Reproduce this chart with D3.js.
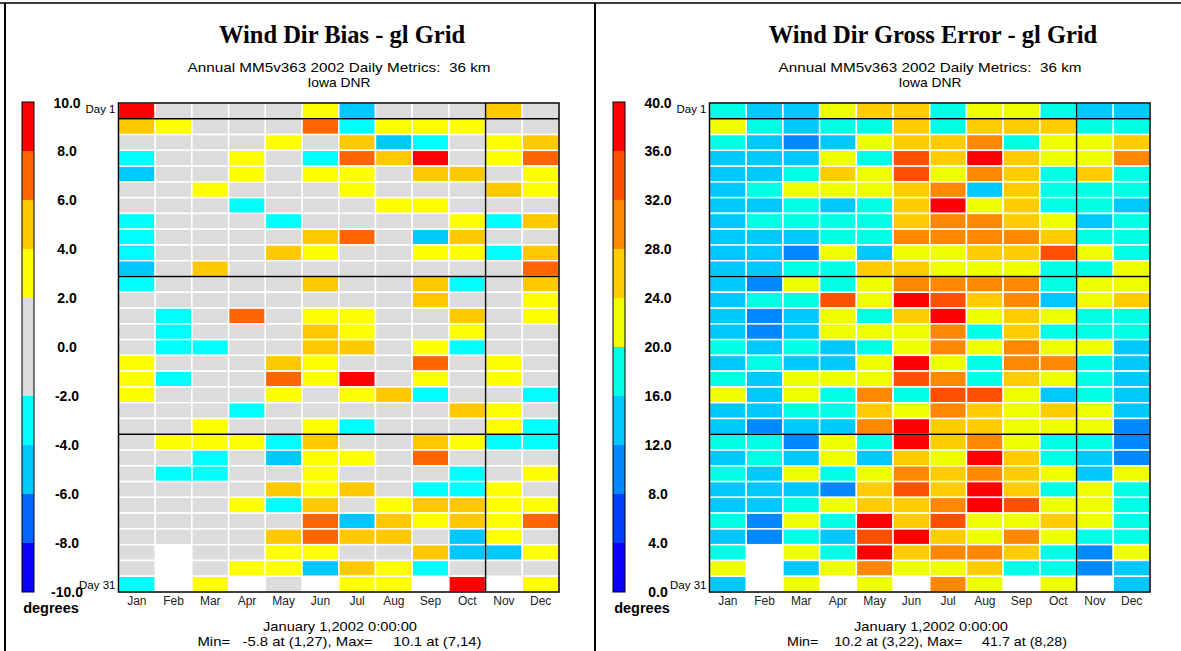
<!DOCTYPE html>
<html>
<head>
<meta charset="utf-8">
<script src="https://cdn.jsdelivr.net/npm/d3@7"></script>
<style>
html,body{margin:0;padding:0;background:#fff;}
svg{display:block;}
text{font-family:"Liberation Sans",Arial,Helvetica,sans-serif;}
</style>
</head>
<body>
<svg id="chart" width="1181" height="651"></svg>
<script>
// ---------- categories ----------
const months = ["Jan","Feb","Mar","Apr","May","Jun","Jul","Aug","Sep","Oct","Nov","Dec"];
const days = d3.range(1, 32);

// ---------- Wind Dir Bias (degrees), day 1..31 per month (null = no day) ----------
const biasJan = [9,5,0,-3,-5.8,0,0,-3,-3,-3,-5,-3,0,0,0,0,3,3,3,0,0,0,0,0,0,0,0,0,0,0,-3];
const biasFeb = [0,3,0,0,0,0,0,0,0,0,0,0,0,-3,-3,-3,0,-3,0,0,0,3,0,-3,0,0,0,0,null,null,null];
const biasMar = [0,0,0,0,0,3,0,0,0,0,5,0,0,0,0,-3,0,0,0,0,3,3,-3,-3,0,0,0,0,0,0,3];
const biasApr = [0,0,0,3,3,0,-3,0,0,0,0,0,0,7,0,0,0,0,0,-3,0,3,0,0,0,3,0,0,0,3,null];
const biasMay = [0,0,3,0,0,0,0,-3,0,5,0,0,0,0,0,0,5,7,3,0,0,-3,-5,0,5,-3,0,5,3,3,0];
const biasJun = [3,7,0,-3,3,0,0,0,5,3,0,5,0,3,5,5,3,3,0,0,3,5,3,3,3,5,7,7,3,-5,null];
const biasJul = [-5,-3,5,7,3,3,0,0,7,0,0,0,0,3,3,5,0,10.1,3,0,-3,0,3,0,5,0,-5,5,0,5,3];
const biasAug = [0,3,-5,5,0,0,3,0,0,0,0,0,0,0,0,0,0,0,5,0,0,0,0,0,0,3,5,5,0,3,3];
const biasSep = [0,3,-3,9,5,0,3,0,-5,3,0,5,5,0,0,3,7,3,-3,0,0,5,7,0,-3,5,3,0,5,-3,null];
const biasOct = [0,3,0,0,5,0,0,3,5,3,0,-3,0,5,3,-3,0,0,0,5,0,3,0,-3,-3,5,5,-5,-5,0,9];
const biasNov = [5,0,3,3,0,5,0,-3,0,-3,0,0,0,0,0,0,3,3,0,3,3,-3,0,0,3,3,3,3,-5,0,null];
const biasDec = [0,0,5,7,3,3,0,5,0,5,7,5,3,3,0,0,0,0,-3,0,-3,-3,0,3,0,3,7,0,3,0,3];

// ---------- Wind Dir Gross Error (degrees) ----------
const errJan = [18,22,18,14,14,14,14,14,14,14,14,14,14,14,14,18,14,18,22,14,14,18,14,18,14,14,18,14,18,22,14];
const errFeb = [14,18,14,14,14,18,14,18,14,14,14,11,18,11,11,14,18,14,14,14,11,18,18,14,14,14,11,11,null,null,null];
const errMar = [14,14,11,14,18,22,18,18,14,10.2,18,22,18,14,14,18,14,22,22,18,14,11,14,22,14,18,22,18,22,14,22];
const errApr = [22,18,14,22,26,22,14,18,18,22,18,18,34,22,22,14,14,22,18,18,14,22,22,18,11,22,18,14,18,22,null];
const errMay = [26,18,22,18,22,22,18,18,18,14,26,22,22,18,22,18,22,22,30,26,30,18,14,22,26,26,38,34,38,30,22];
const errJun = [26,26,26,34,34,26,26,26,30,22,26,30,38,26,22,22,38,34,18,22,38,38,26,30,34,26,26,38,26,22,null];
const errJul = [18,18,26,26,22,30,38,30,30,22,22,30,34,38,30,30,22,30,34,30,26,26,22,26,26,30,34,26,30,22,30];
const errAug = [22,26,30,41.7,30,14,22,30,30,26,22,30,26,22,18,22,18,18,34,26,26,30,38,30,38,38,22,22,30,26,22];
const errSep = [22,26,18,26,26,26,26,26,30,26,22,30,30,26,26,30,30,26,22,22,22,22,26,26,26,34,22,30,26,18,null];
const errOct = [18,26,22,22,18,18,18,22,26,34,18,18,14,22,18,22,30,22,14,26,22,18,18,22,18,22,26,22,18,18,22];
const errNov = [14,18,22,22,26,18,18,14,18,22,18,22,22,18,18,22,18,18,18,22,22,18,14,14,22,22,22,18,11,11,null];
const errDec = [14,18,26,30,18,18,14,18,18,18,22,22,26,18,18,14,14,14,14,14,11,11,11,22,18,18,18,18,22,14,14];

const biasSeries = [biasJan,biasFeb,biasMar,biasApr,biasMay,biasJun,biasJul,biasAug,biasSep,biasOct,biasNov,biasDec];
const errSeries  = [errJan,errFeb,errMar,errApr,errMay,errJun,errJul,errAug,errSep,errOct,errNov,errDec];

// ---------- colour bins & tick labels ----------
const biasThresholds = [-8,-6,-4,-2,2,4,6,8];
const biasColors = ["#0A00FF","#0066FF","#00C8FF","#00FFFF","#DCDCDC","#FFFF00","#FFC800","#FF6600","#FF0000"];
const biasTicks = [-10,-8,-6,-4,-2,0,2,4,6,8,10];

const errThresholds = [4,8,12,16,20,24,28,32,36];
const errColors = ["#0A00FF","#0040FF","#0088FF","#00C8FF","#00FFE6","#EEFF00","#FFCC00","#FF8800","#FF5000","#FF0000"];
const errTicks = [0,4,8,12,16,20,24,28,32,36,40];

// grid lines: below these days, right of these months
const gridDays = [1, 11, 21];
const gridMonths = ["Oct"];

const svg = d3.select("#chart");

// frame lines
svg.append("line").attr("x1",0).attr("x2",1181).attr("y1",3).attr("y2",3).attr("stroke","#000").attr("stroke-width",1.5);
[5, 595].forEach(x => svg.append("line").attr("x1",x).attr("x2",x).attr("y1",3).attr("y2",651).attr("stroke","#000").attr("stroke-width",2));

function drawPanel(cfg) {
  const g = svg.append("g").attr("transform", `translate(${cfg.dx},0)`);
  const x = d3.scaleBand().domain(months).range([118.5, 559]);
  const y = d3.scaleBand().domain(days).range([103, 592]);
  const color = d3.scaleThreshold().domain(cfg.thresholds).range(cfg.colors);

  // titles
  g.append("text").attr("x",342).attr("y",43).attr("text-anchor","middle")
    .style("font-family","'Liberation Serif','Times New Roman',serif").style("font-weight","bold")
    .style("font-size","24.5px").text(cfg.title);
  g.append("text").attr("x",339).attr("y",72).attr("text-anchor","middle").style("font-size","13.5px")
    .attr("xml:space","preserve").style("white-space","pre")
    .attr("textLength",303).attr("lengthAdjust","spacingAndGlyphs")
    .text("Annual MM5v363 2002 Daily Metrics:  36 km");
  g.append("text").attr("x",339).attr("y",87).attr("text-anchor","middle").style("font-size","13.5px")
    .attr("textLength",63).attr("lengthAdjust","spacingAndGlyphs").text("Iowa DNR");

  // cells
  const cells = [];
  cfg.series.forEach((arr, mi) => arr.forEach((v, di) => { if (v !== null) cells.push({m: months[mi], d: days[di], v}); }));
  g.append("g").selectAll("rect").data(cells).join("rect")
    .attr("x", d => x(d.m)).attr("y", d => y(d.d))
    .attr("width", x.bandwidth()).attr("height", y.bandwidth())
    .attr("fill", d => color(d.v)).attr("stroke","#fff").attr("stroke-width",1.5);

  // grid lines
  gridDays.forEach(d => {
    const yy = y(d) + y.bandwidth();
    g.append("line").attr("x1",x.range()[0]).attr("x2",x.range()[1]).attr("y1",yy).attr("y2",yy).attr("stroke","#000").attr("stroke-width",1.5);
  });
  gridMonths.forEach(m => {
    const xx = x(m) + x.bandwidth();
    g.append("line").attr("x1",xx).attr("x2",xx).attr("y1",y.range()[0]).attr("y2",y.range()[1]).attr("stroke","#111").attr("stroke-width",1.5);
  });
  g.append("rect").attr("x",x.range()[0]).attr("y",y.range()[0]).attr("width",x.range()[1]-x.range()[0]).attr("height",y.range()[1]-y.range()[0])
    .attr("fill","none").attr("stroke","#000").attr("stroke-width",1.5);

  // month labels
  g.append("g").selectAll("text").data(months).join("text")
    .attr("x", m => x(m) + x.bandwidth()/2).attr("y", 605).attr("text-anchor","middle")
    .style("font-size","12px").attr("fill","#222").text(m => m);

  // Day labels
  g.append("text").attr("x",x.range()[0]-3).attr("y",113).attr("text-anchor","end").style("font-size","11.5px").text("Day " + days[0]);
  g.append("text").attr("x",x.range()[0]-3).attr("y",589).attr("text-anchor","end").style("font-size","11.5px").text("Day " + days[days.length-1]);

  // colour bar
  const cbX = 22, cbW = 12;
  const ext = d3.extent(cfg.ticks);
  const cy = d3.scaleLinear().domain(ext).range([592, 102]);
  const bounds = [ext[0], ...cfg.thresholds, ext[1]];
  const bands = bounds.slice(0,-1).map((b,i) => ({lo: b, hi: bounds[i+1], c: cfg.colors[i]}));
  g.append("g").selectAll("rect").data(bands).join("rect")
    .attr("x", cbX).attr("width", cbW)
    .attr("y", d => cy(d.hi)).attr("height", d => cy(d.lo) - cy(d.hi))
    .attr("fill", d => d.c);
  g.append("rect").attr("x",cbX).attr("y",cy(ext[1])).attr("width",cbW).attr("height",cy(ext[0])-cy(ext[1]))
    .attr("fill","none").attr("stroke","#000").attr("stroke-width",1);
  g.append("g").selectAll("text").data(cfg.ticks).join("text")
    .attr("x", cbX + 45)
    .attr("y", v => cy(v) + (v === ext[1] ? 1.5 : 0))
    .attr("dy","0.35em").attr("text-anchor","middle")
    .style("font-size","14px").style("font-weight","bold")
    .text(v => v.toFixed(1));
  g.append("text").attr("x", cbX + 29).attr("y", 613).attr("text-anchor","middle")
    .style("font-size","14.5px").style("font-weight","bold").text("degrees");

  // footer
  g.append("text").attr("x",340).attr("y",631).attr("text-anchor","middle").style("font-size","13.5px")
    .attr("textLength",154).attr("lengthAdjust","spacingAndGlyphs").text("January 1,2002 0:00:00");
  g.append("text").attr("x",cfg.footerX).attr("y",646).attr("text-anchor","middle").style("font-size","13.5px")
    .attr("xml:space","preserve").style("white-space","pre")
    .attr("textLength",cfg.footerW).attr("lengthAdjust","spacingAndGlyphs").text(cfg.footer);
}

drawPanel({dx: 0, title: "Wind Dir Bias - gl Grid", series: biasSeries, thresholds: biasThresholds, colors: biasColors, ticks: biasTicks,
  footer: "Min=   -5.8 at (1,27), Max=     10.1 at (7,14)", footerX: 339.5, footerW: 284});
drawPanel({dx: 591, title: "Wind Dir Gross Error - gl Grid", series: errSeries, thresholds: errThresholds, colors: errColors, ticks: errTicks,
  footer: "Min=    10.2 at (3,22), Max=     41.7 at (8,28)", footerX: 336, footerW: 280});
</script>
</body>
</html>
